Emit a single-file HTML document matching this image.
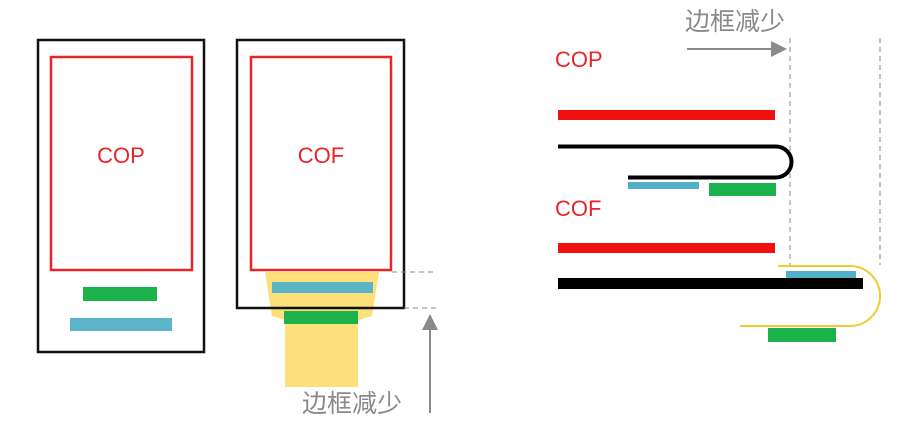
<!DOCTYPE html>
<html><head><meta charset="utf-8"><style>
body{margin:0;background:#fff;}
</style></head><body>
<svg width="917" height="426" xmlns="http://www.w3.org/2000/svg" style="display:block">
<defs><marker id="ah" markerWidth="8" markerHeight="8" refX="7" refY="4" orient="auto"><path d="M0,0 L8,4 L0,8z" fill="#8a8a8a"/></marker></defs>
<!-- left COP -->
<rect x="38" y="40" width="166" height="312" fill="none" stroke="#111" stroke-width="2.5"/>
<rect x="51" y="57" width="141" height="213" fill="none" stroke="#e8262a" stroke-width="2.5"/>
<text x="121" y="163" font-family="Liberation Sans, sans-serif" font-size="22" fill="#e8262a" text-anchor="middle">COP</text>
<rect x="83" y="287" width="74" height="14" fill="#1bb24b"/>
<rect x="70" y="318" width="102" height="13" fill="#5bb4c8"/>
<!-- COF -->
<path d="M265,272 L379,272 L372,316 L358,320 L358,387 L285,387 L285,320 L272,316 Z" fill="#fde07a"/>
<rect x="237" y="40" width="167" height="268" fill="none" stroke="#111" stroke-width="2.5"/>
<rect x="251" y="57" width="140" height="213" fill="none" stroke="#e8262a" stroke-width="2.5"/>
<text x="321" y="163" font-family="Liberation Sans, sans-serif" font-size="22" fill="#e8262a" text-anchor="middle">COF</text>
<rect x="272" y="282" width="101" height="11" fill="#5bb4c8"/>
<rect x="284" y="311" width="74" height="13" fill="#1bb24b"/>
<line x1="392" y1="272" x2="437" y2="272" stroke="#888" stroke-dasharray="5,4"/>
<line x1="404" y1="308" x2="437" y2="308" stroke="#888" stroke-dasharray="5,4"/>
<line x1="430" y1="413" x2="430" y2="316" stroke="#8a8a8a" stroke-width="2" marker-end="url(#ah)"/>
<text x="302" y="412" font-family="Liberation Sans, Noto Sans CJK SC, sans-serif" font-size="25" fill="#8a8a8a">边框减少</text>
<!-- right -->
<text x="685" y="30" font-family="Liberation Sans, Noto Sans CJK SC, sans-serif" font-size="25" fill="#8a8a8a">边框减少</text>
<line x1="687" y1="49" x2="785" y2="49" stroke="#8a8a8a" stroke-width="2" marker-end="url(#ah)"/>
<line x1="790" y1="38" x2="790" y2="266" stroke="#888" stroke-dasharray="5,4"/>
<line x1="880" y1="38" x2="880" y2="265" stroke="#888" stroke-dasharray="5,4"/>
<text x="555" y="67" font-family="Liberation Sans, sans-serif" font-size="22" fill="#e8262a">COP</text>
<rect x="558" y="110" width="217" height="10" fill="#f01010"/>
<path d="M558,146.5 L776,146.5 A15.5,15.5 0 0 1 776,177.5 L628,177.5" fill="none" stroke="#000" stroke-width="4"/>
<rect x="628" y="182" width="71" height="7" fill="#4fb0c8"/>
<rect x="709" y="183" width="67" height="13" fill="#1bb24b"/>
<text x="555" y="216" font-family="Liberation Sans, sans-serif" font-size="22" fill="#e8262a">COF</text>
<rect x="558" y="243" width="217" height="10" fill="#f01010"/>
<path d="M778,266 L850,266 A30,30 0 0 1 850,326 L740,326" fill="none" stroke="#f0cc30" stroke-width="2"/>
<rect x="786" y="271" width="70" height="7" fill="#4fb0c8"/>
<rect x="558" y="278" width="305" height="11" fill="#000"/>
<rect x="768" y="328" width="68" height="14" fill="#1bb24b"/>
</svg>
</body></html>
